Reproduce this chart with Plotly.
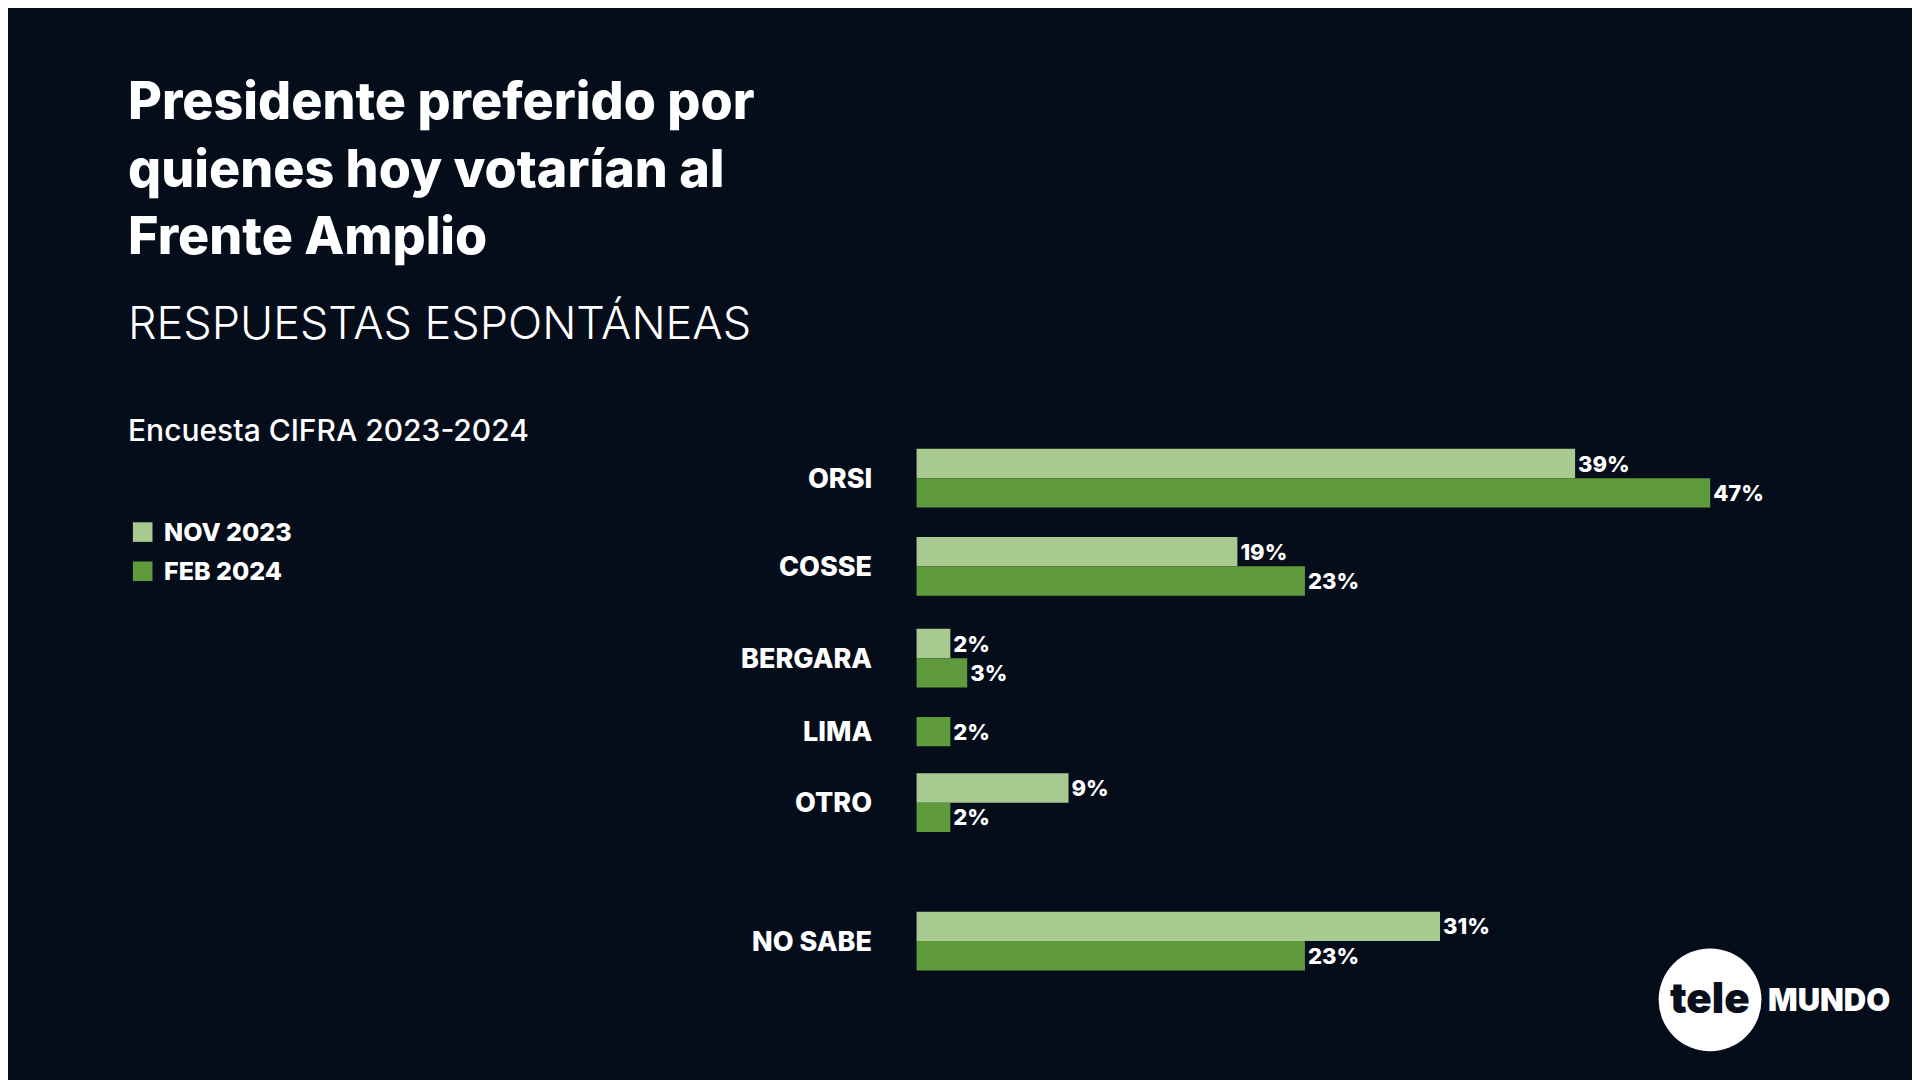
import plotly.graph_objects as go

categories = ["ORSI", "COSSE", "BERGARA", "LIMA", "OTRO", "NO SABE"]
nov_2023 = [39, 19, 2, None, 9, 31]
feb_2024 = [47, 23, 3, 2, 2, 23]
series_names = ["NOV 2023", "FEB 2024"]
title_lines = ["Presidente preferido por", "quienes hoy votarían al", "Frente Amplio"]
# layout: vertical group centres (in reference-pixel units of an 882-high canvas)
y_pos = [384, 456, 531, 591, 649, 762]

W, H = 1568, 882
x0_px, px_per_pct = 742, 13.79
bar_h = 24

NOV_C = "#a8c98f"
FEB_C = "#5f9a3c"
FONT = "Inter"

def px(x): return x / W
def py(y): return 1 - y / H

feb_offset = [(-bar_h / 2 if n is None else 0) for n in nov_2023]
lab_font = dict(color="white", size=22, family=FONT, weight=800)

fig = go.Figure()
fig.add_bar(
    name=series_names[0], y=y_pos, x=nov_2023, orientation="h",
    marker=dict(color=NOV_C, line=dict(width=0)), width=bar_h, offset=-bar_h,
    text=[f"{v}%" if v is not None else "" for v in nov_2023],
    textposition="outside", cliponaxis=False, textfont=lab_font,
)
fig.add_bar(
    name=series_names[1], y=y_pos, x=feb_2024, orientation="h",
    marker=dict(color=FEB_C, line=dict(width=0)), width=bar_h, offset=feb_offset,
    text=[f"{v}%" for v in feb_2024],
    textposition="outside", cliponaxis=False, textfont=lab_font,
)

annotations = []
for c, y in zip(categories, y_pos):
    annotations.append(dict(x=-2.5, y=y, xref="x", yref="y", text=c, showarrow=False,
                            xanchor="right", yanchor="middle",
                            font=dict(color="white", size=27, family=FONT, weight=800)))

annotations += [
    dict(x=px(96), y=py(131), xref="paper", yref="paper", xanchor="left", yanchor="middle",
         align="left", showarrow=False, text="<br>".join(title_lines),
         font=dict(color="white", size=52, family=FONT, weight=800)),
    dict(x=px(96), y=py(257), xref="paper", yref="paper", xanchor="left", yanchor="middle",
         showarrow=False, text="RESPUESTAS ESPONTÁNEAS",
         font=dict(color="white", size=45, family=FONT, weight=300)),
    dict(x=px(96), y=py(345), xref="paper", yref="paper", xanchor="left", yanchor="middle",
         showarrow=False, text="Encuesta CIFRA 2023-2024",
         font=dict(color="white", size=30, family=FONT, weight=500)),
    dict(x=px(1390), y=py(808), xref="paper", yref="paper", xanchor="center", yanchor="middle",
         showarrow=False, text="tele",
         font=dict(color="#0a0f1c", size=42, family=FONT, weight=900)),
    dict(x=px(1436), y=py(810), xref="paper", yref="paper", xanchor="left", yanchor="middle",
         showarrow=False, text="MUNDO",
         font=dict(color="white", size=31, family=FONT, weight=900)),
]

shapes = [dict(type="circle", xref="paper", yref="paper",
               x0=px(1348), x1=px(1432), y0=py(768), y1=py(852),
               fillcolor="white", line=dict(width=0), layer="below")]

for i, (name, col) in enumerate(zip(series_names, [NOV_C, FEB_C])):
    yc = 428 + 32 * i
    shapes.append(dict(type="rect", xref="paper", yref="paper",
                       x0=px(102), x1=px(118), y0=py(yc - 8), y1=py(yc + 8),
                       fillcolor=col, line=dict(width=0)))
    annotations.append(dict(x=px(126), y=py(yc), xref="paper", yref="paper",
                            xanchor="left", yanchor="middle", showarrow=False, text=name,
                            font=dict(color="white", size=25, family=FONT, weight=800)))

fig.update_layout(
    width=1920, height=1080,
    margin=dict(l=0, r=0, t=0, b=0),
    paper_bgcolor="#050c1a", plot_bgcolor="rgba(0,0,0,0)",
    barmode="overlay", showlegend=False,
    xaxis=dict(range=[-x0_px / px_per_pct, (W - x0_px) / px_per_pct], visible=False, fixedrange=True),
    yaxis=dict(range=[H, 0], visible=False),
    annotations=annotations, shapes=shapes,
)

fig.write_html("out.html")
